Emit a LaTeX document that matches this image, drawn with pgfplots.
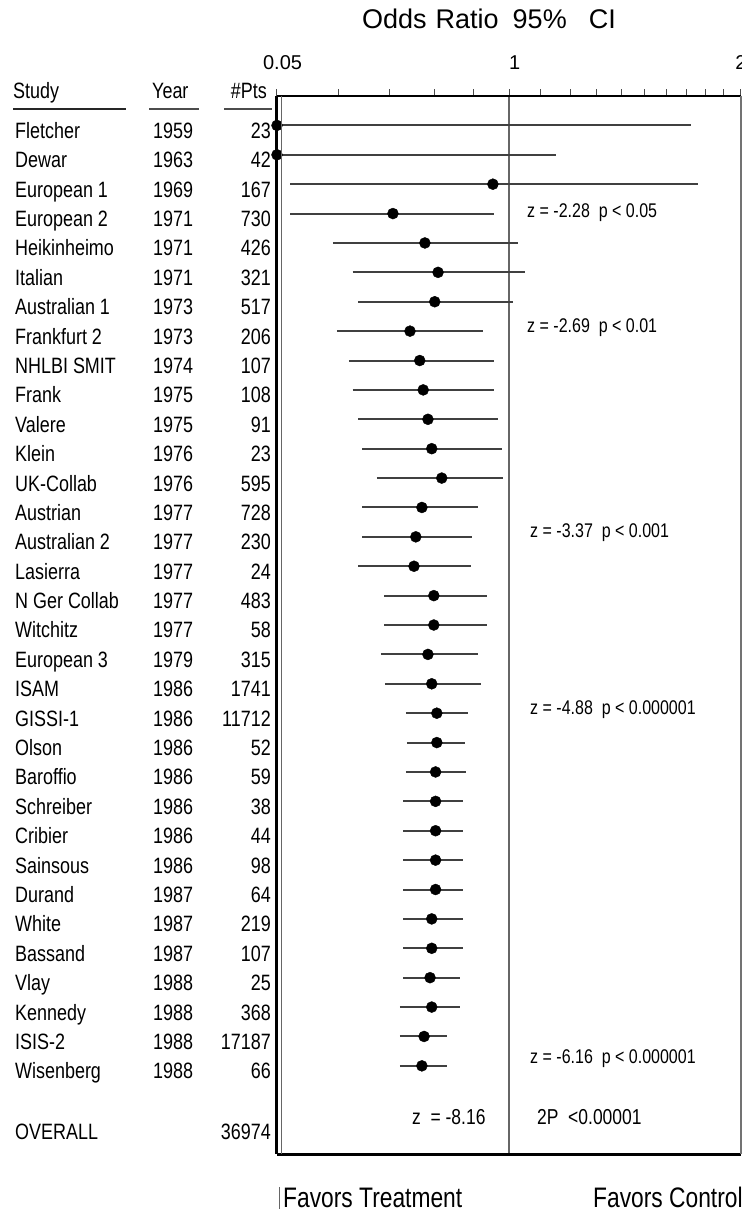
\documentclass[border=0pt]{standalone}
\usepackage{pgfplots}
\pgfplotsset{compat=1.18}
\usepackage{pgfplotstable}
\usepackage{fontspec}
\setmainfont{Liberation Sans}
\usepackage{graphicx}
\newcommand\T[1]{\scalebox{0.97}[1.2]{#1}}
\newcommand\fs{\fontsize{18.5}{20}\selectfont}
\newcommand\fa{\fontsize{16.5}{18}\selectfont}

\pgfplotstableread{
i OR lo hi
0 0.5 0.5 1.72
1 0.5 0.5 1.15
2 0.953 0.52 1.76
3 0.707 0.52 0.956
4 0.778 0.591 1.027
5 0.809 0.627 1.049
6 0.801 0.637 1.012
7 0.744 0.598 0.925
8 0.766 0.620 0.956
9 0.774 0.627 0.956
10 0.785 0.637 0.968
11 0.794 0.645 0.980
12 0.818 0.674 0.983
13 0.771 0.645 0.912
14 0.757 0.645 0.896
15 0.753 0.637 0.893
16 0.799 0.689 0.936
17 0.799 0.689 0.936
18 0.785 0.682 0.912
19 0.794 0.690 0.920
20 0.806 0.735 0.885
21 0.806 0.737 0.877
22 0.803 0.735 0.879
23 0.803 0.729 0.872
24 0.803 0.729 0.872
25 0.803 0.729 0.872
26 0.803 0.729 0.872
27 0.794 0.729 0.872
28 0.794 0.729 0.872
29 0.790 0.729 0.864
30 0.794 0.722 0.864
31 0.776 0.722 0.831
32 0.771 0.722 0.831
}\cum

\begin{document}
\begin{tikzpicture}
\path[use as bounding box] (0,0) rectangle (742pt,1211pt);
\begin{axis}[at={(277pt,57pt)}, anchor=south west, scale only axis,
  width=464pt, height=1058pt,
  xmode=log, xmin=0.5, xmax=2, ymin=-1, ymax=35, y dir=reverse,
  axis line style={draw=none}, ytick=\empty,
  xtick={0.5,1,2}, xticklabels={\hphantom{0}0.05,\hphantom{0}1,2},
  minor xtick={0.6,0.7,0.8,0.9,1.1,1.2,1.3,1.4,1.5,1.6,1.7,1.8,1.9},
  xtick pos=right, xticklabel pos=right, tick align=outside,
  major tick length=7pt, minor tick length=7pt,
  tick style={black!70, line width=1pt},
  xticklabel style={font=\fontsize{20}{22}\selectfont, yshift=16pt},
  clip=false]
\draw[black!60, line width=2pt] (axis cs:1,-1) -- (axis cs:1,35);
\pgfplotsinvokeforeach{0,...,32}{
  \pgfplotstablegetelem{#1}{lo}\of\cum \let\lo\pgfplotsretval
  \pgfplotstablegetelem{#1}{hi}\of\cum \let\hi\pgfplotsretval
  \addplot[black!75, line width=2pt, forget plot] coordinates {(\lo,#1) (\hi,#1)};
}
\addplot[only marks, mark=*, mark size=5.5pt, black] table[x=OR, y=i] {\cum};
\draw[black, line width=2.5pt] (axis cs:0.5,-1) -- (axis cs:2,-1);
\draw[black, line width=3pt] (axis cs:0.5,-1) -- (axis cs:0.5,35);
\draw[black, line width=3pt] (axis cs:0.5,35) -- (axis cs:2,35);
\draw[black!55, line width=2pt] (axis cs:2,-1) -- (axis cs:2,35);
\end{axis}
\begin{scope}[x=1pt,y=1pt]
\draw[black!60, line width=1.5pt] (281.5,1115) -- (281.5,57);
% header
\node[anchor=base west, inner sep=0] at (362,1182) {\fontsize{27}{29}\selectfont Odds\hspace{9pt}Ratio\hspace{14pt}95\%\hspace{22pt}CI};
\node[anchor=base west, inner sep=0] at (13,1112) {\fs\T{Study}};
\node[anchor=base west, inner sep=0] at (152,1112) {\fs\T{Year}};
\node[anchor=base east, inner sep=0] at (267,1112) {\fs\T{\#Pts}};
\draw[black!85, line width=2.5pt] (13,1102) -- (126,1102);
\draw[black!70, line width=2.5pt] (149,1102) -- (199,1102);
\draw[black!70, line width=2.5pt] (224,1102) -- (272,1102);
% rows
\foreach \name/\yr/\n [count=\i from 0] in {Fletcher/1959/23, Dewar/1963/42, European 1/1969/167, European 2/1971/730, Heikinheimo/1971/426, Italian/1971/321, Australian 1/1973/517, Frankfurt 2/1973/206, NHLBI SMIT/1974/107, Frank/1975/108, Valere/1975/91, Klein/1976/23, UK-Collab/1976/595, Austrian/1977/728, Australian 2/1977/230, Lasierra/1977/24, N Ger Collab/1977/483, Witchitz/1977/58, European 3/1979/315, ISAM/1986/1741, GISSI-1/1986/11712, Olson/1986/52, Baroffio/1986/59, Schreiber/1986/38, Cribier/1986/44, Sainsous/1986/98, Durand/1987/64, White/1987/219, Bassand/1987/107, Vlay/1988/25, Kennedy/1988/368, ISIS-2/1988/17187, Wisenberg/1988/66}{
  \pgfmathsetmacro\yy{1211-(96+29.389*(\i+1))-13}
  \node[anchor=base west, inner sep=0] at (15,\yy) {\fs\T{\name}};
  \node[anchor=base west, inner sep=0] at (153,\yy) {\fs\T{\yr}};
  \node[anchor=base east, inner sep=0] at (271,\yy) {\fs\T{\n}};
}
\node[anchor=base west, inner sep=0] at (15,71) {\fs\T{OVERALL}};
\node[anchor=base east, inner sep=0] at (271,71) {\fs\T{36974}};
\node[anchor=base west, inner sep=0] at (412,86) {\fontsize{18}{20}\selectfont\T{z\ \ =\ -8.16}};
\node[anchor=base west, inner sep=0] at (537,86) {\fontsize{18}{20}\selectfont\T{2P\ \ <0.00001}};
% z annotations
\node[anchor=base west, inner sep=0] at (527,993) {\fa\T{z = -2.28\ \ p < 0.05}};
\node[anchor=base west, inner sep=0] at (527,878) {\fa\T{z = -2.69\ \ p < 0.01}};
\node[anchor=base west, inner sep=0] at (530,673) {\fa\T{z = -3.37\ \ p < 0.001}};
\node[anchor=base west, inner sep=0] at (530,496) {\fa\T{z = -4.88\ \ p < 0.000001}};
\node[anchor=base west, inner sep=0] at (530,147) {\fa\T{z = -6.16\ \ p < 0.000001}};
% favors
\draw[black!60, line width=1pt] (279,24) -- (279,2);
\node[anchor=base west, inner sep=0] at (283,4) {\fontsize{23.5}{25}\selectfont\T{Favors Treatment}};
\node[anchor=base west, inner sep=0] at (593,4) {\fontsize{23.5}{25}\selectfont\T{Favors Control}};
\end{scope}
\end{tikzpicture}
\end{document}
